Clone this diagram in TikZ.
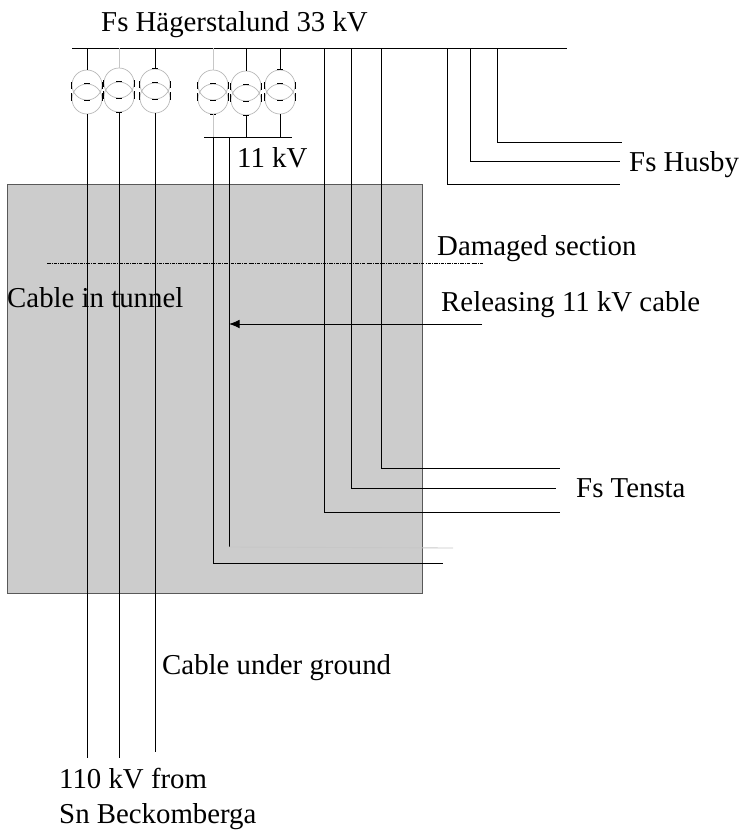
\documentclass[tikz,border=0pt]{standalone}
\usepackage{fontspec}
\setmainfont{Liberation Serif}
\usetikzlibrary{arrows.meta}

\begin{document}
\begin{tikzpicture}[
  x=0.03cm,y=-0.03cm,
  cable/.style={line width=0.75pt,black},
  ghost/.style={line width=0.75pt,black!22},
  winding/.style={draw=black!28,line width=0.6pt,circle,inner sep=0pt,minimum size=0.9cm},
  lbl/.style={font=\fontsize{24.6}{30.6}\selectfont,anchor=west,inner sep=0pt,align=left},
  arr/.style={-{Latex[length=3.2mm,width=2.6mm]},line width=0.75pt}
]
\useasboundingbox (0,0) rectangle (740,830);
% tunnel
\node[fill=black!20,draw=black!65,line width=0.75pt,minimum width=12.45cm,minimum height=12.27cm,inner sep=0pt,anchor=north west] (tunnel) at (7,184) {};

% busbars
\coordinate (busL) at (72,48);
\coordinate (busR) at (567,48);
\draw[cable] (busL) -- (busR);
\coordinate (lvL) at (204,137);
\coordinate (lvR) at (292,137);
\draw[cable] (lvL) -- (lvR);

% transformers
\foreach \name/\px/\py/\col in {ta/87/85/cable,tb/119/83/ghost,tc/155/84/cable,td/213/85/ghost,te/246/86/cable,tf/280/85/cable}{
  \node[winding] (\name u) at (\px,\py) {};
  \node[winding] (\name l) at (\px,\py+14) {};
  \coordinate (\name top) at (\px,48);
  \draw[\col] (\name top) -- (\name u.north);
  \draw[cable] (\name u.west)+(0,-3) -- ++(0,4);
  \draw[cable] (\name u.east)+(0,-3) -- ++(0,4);
  \draw[cable] (\name l.west)+(0,-6) -- ++(0,2);
  \draw[cable] (\name l.east)+(0,-6) -- ++(0,2);
  \draw[cable] (\name l.north)+(-3,0) -- ++(3,0);
  \draw[cable] (\name u.south)+(-3,0) -- ++(3,0);
}
\foreach \name in {tcu,tfu}
  \draw[cable] (\name.north)+(-3,0) -- ++(3,0);
\foreach \name in {tbl,tdl,tel}
  \draw[cable] (\name.south)+(-3,0) -- ++(3,0);

% 110 kV cables
\foreach \name/\py in {ta/758,tb/758,tc/752}
  \draw[cable] (\name l.south) -- (\name l.south |- 0,\py);

% 11 kV side
\draw[ghost] (tdl.south) -- (tdl.south |- lvL);
\draw[cable] (tel.south) -- (tel.south |- lvL);
\draw[cable] (tfl.south) -- (tfl.south |- lvL);
\coordinate (lvA) at (213,137);
\coordinate (lvAb) at (213,563);
\coordinate (lvAe) at (443,563);
\draw[cable] (lvA) -- (lvAb) -- (lvAe);
\coordinate (lvB) at (229,137);
\coordinate (lvBb) at (229,547);
\coordinate (lvBe) at (453,548);
\draw[cable] (lvB) -- (lvBb);
\draw[ghost] (lvBb) -- (lvBe);

% feeders
\foreach \name/\px/\py/\ex in {fa/324/512/560,fb/351/488/556,fc/381/468/560,fd/447/184/620,fe/470/161/620,ff/497/142/622}{
  \coordinate (\name a) at (\px,48);
  \coordinate (\name b) at (\px,\py);
  \coordinate (\name c) at (\ex,\py);
  \draw[cable] (\name a) -- (\name b) -- (\name c);
}

% damaged section and arrow
\coordinate (dmgL) at (47,263);
\coordinate (dmgR) at (483,263);
\draw[line width=0.6pt,densely dash dot] (dmgL) -- (dmgR);
\coordinate (relR) at (482,324);
\coordinate (relL) at (229,324);
\draw[arr] (relR) -- (relL);

% labels
\node[lbl] (hag) at (101,25) {Fs Hägerstalund 33 kV};
\node[lbl] (lv) at (237,158) {11 kV};
\node[lbl] (husby) at (629,165) {Fs Husby};
\node[lbl] (dmg) at (437,249) {Damaged section};
\node[lbl] (tun) at (7,298) {Cable in tunnel};
\node[lbl] (rel) at (441,305) {Releasing 11 kV cable};
\node[lbl] (tensta) at (576,488) {Fs Tensta};
\node[lbl] (grd) at (162,668) {Cable under ground};
\node[lbl] (src) at (59,799) {110 kV from\\Sn Beckomberga};
\end{tikzpicture}
\end{document}
